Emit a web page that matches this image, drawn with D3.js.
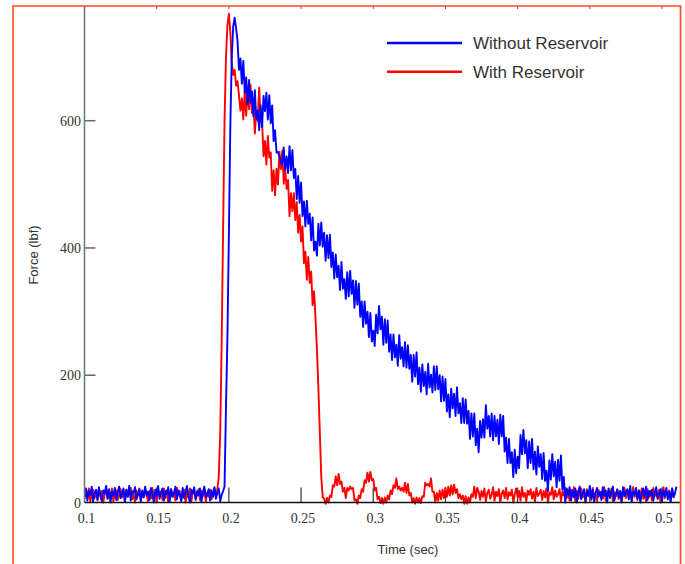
<!DOCTYPE html>
<html><head><meta charset="utf-8">
<script src="https://cdn.jsdelivr.net/npm/d3@7"></script>
<style>body{margin:0;background:#fff;} svg{display:block}</style>
</head><body><svg id="c" width="685" height="564"></svg>
<script>
// ---------------- DATA ----------------
const seriesNames = ["Without Reservoir", "With Reservoir"];
const xTickValues = [0.1, 0.15, 0.2, 0.25, 0.3, 0.35, 0.4, 0.45, 0.5];
const xTickLabels = ["0.1", "0.15", "0.2", "0.25", "0.3", "0.35", "0.4", "0.45", "0.5"];
const yTickValues = [0, 200, 400, 600];
const yTickLabels = ["0", "200", "400", "600"];
const xTitle = "Time (sec)";
const yTitle = "Force (lbf)";
const sampleStep = 0.001; // seconds between samples

// Without Reservoir (blue)
const blueBase1Start = 0.100;
const blueBase1 = [8,22,3,18,12,25,1,15,20,5,24,10,2,19,14,26,6,21,0,17,11,23,4,16,25,7,13,22,1,20,9,26,3,18,15,24,5,12,21,2,19,8,25,11,17,4,23,14,0,20,10,26,6,16,22,3,18,13,24,1,21,9,15,25,5,19,12,2,23,7,17,26,10,0,20,14,24,4,18,11,22,1,16,25,8,13,21,3,19,9,24,6,15,22,2,12,18];
const blueRiseStart = 0.197;
const blueRise = [25,150,260,420,590,700,748,762,745,725,680];
const blueDecayStart = 0.208;
const blueDecay = [698,658,694,644,668,626,664,628,646,607,648,603,616,585,624,590,639,615,644,602,
640,596,624,568,585,550,551,544,535,531,558,523,544,518,560,522,554,510,524,477,
513,471,503,450,473,434,474,438,454,412,448,396,410,388,438,404,440,402,424,380,
420,384,421,370,393,352,390,354,372,334,378,336,351,320,362,324,364,328,349,306,
348,311,344,292,316,276,316,281,300,260,298,253,270,246,295,266,309,272,292,248,
288,251,286,237,264,224,264,228,248,215,263,226,244,214,252,212,247,210,232,190,
232,198,236,186,212,174,217,183,205,170,218,181,201,173,214,177,214,178,200,159,
198,160,194,143,170,134,179,148,171,136,181,140,156,125,164,125,162,124,144,100,
140,104,140,90,116,79,128,102,131,102,153,116,136,104,140,98,136,104,130,92,
138,104,136,80,102,62,100,62,79,40,83,46,72,54,106,76,114,77,98,54,
96,62,100,52,80,44,88,56,76,37,78,34,50,18,66,36,76,41,64,24,
67,34,74,20,40,0,22];
const blueBase2Start = 0.435;
const blueBase2 = [12,24,3,19,8,22,0,16,25,5,14,21,2,18,10,26,6,20,1,15,23,9,17,4,24,11,19,0,22,7,16,25,3,13,20,8,18,2,24,10,15,21,5,26,1,17,12,23,6,19,0,14,22,9,25,4,18,11,20,3,16,24,7,13,21,2,19,10,23,5,17,1,22,8,15,25];

// With Reservoir (red)
const redBase1Start = 0.100;
const redBase1 = [5,19,10,22,1,14,20,7,16,3,21,11,18,0,13,23,6,17,9,22,2,15,19,4,12,21,8,18,1,20,10,16,23,5,14,0,19,11,22,3,17,8,21,13,2,18,6,23,10,15,0,20,12,17,4,22,7,19,1,14,21,9,16,3,23,11,18,5,13,20,0,17,8,22,2,15,19,6,12,21,4,18,10,23,1,16,9,20,5,14,22];
const redRiseStart = 0.191;
const redRise = [10,20,40,110,250,430,600,700,750,768,740,690,672,680,655,662,640];
const redDecayStart = 0.208;
const redDecay = [616,635,602,646,608,646,618,656,612,630,580,614,600,652,600,598,544,568,531,576,
542,550,490,522,483,524,500,551,524,553,501,526,493,507,450,486,458,486,444,472,
424,452,410,434,376,394,350,386,345,363,310,332,290,240,180,110,40,8];
const redTailStart = 0.266;
const redTail = [6,-2,7,0,11,9,27,25,41,27,45,29,33,17,23,7,23,19,25,21,
23,3,5,-2,11,7,21,17,35,31,47,33,48,35,37,19,23,5,9,-1,
7,-2,8,0,11,5,19,13,27,23,38,21,25,19,23,17,31,15,29,11,
15,0,7,-2,8,0,7,-1,10,9,31,27,29,25,38,17,17,0,15,3,
19,5,20,7,23,9,25,11,27,13,28,15,21,7,13,5,11,-2,10,-2,
8,0,13,9,25,7,23,17,
4,18,9,22,2,15,20,6,12,24,3,17,10,21,1,14,19,7,23,5,16,11,20,0,13,22,8,18,3,24,9,15,2,19,12,21,6,17,1,23,10,14,20,4,18,8,22,0,16,12,24,5,19,9,13,21,2,17,11,23,7,15,3,20,10,24,1,18,6,14,22,8,16,0,21,12,19,4,23,9,15,2,20,11,17,6,24,3,13,19,8,22,1,16,10,21,5,18,0,14,23,7,20,12,17,2,24,9,15,4,19,11,22,6,13,1,21,8,18,3,23,10,16,5,20,0,14,24,7,17,12,19,2,22,9,15];

// ---------------- BUILD ----------------
function seg(start, vals) { return vals.map((v, i) => ({ t: start + i * sampleStep, v })); }
function monotone(pts) {
  const out = []; let last = -Infinity;
  for (const p of pts) { if (p.t > last + 1e-9 && p.t <= 0.5125) { out.push(p); last = p.t; } }
  return out;
}
const blueData = monotone([].concat(seg(blueBase1Start, blueBase1), seg(blueRiseStart, blueRise),
  seg(blueDecayStart, blueDecay), seg(blueBase2Start, blueBase2)));
const redData = monotone([].concat(seg(redBase1Start, redBase1), seg(redRiseStart, redRise),
  seg(redDecayStart, redDecay), seg(redTailStart, redTail)));

const svg = d3.select("#c");
const frameColor = "#ff4b1f";
const x = d3.scaleLinear().domain([0.1, 0.5]).range([84.5, 662]);
const y = d3.scaleLinear().domain([0, 600]).range([502.5, 120.7]);
const plotTop = 6, plotLeft = 84.5, plotRight = 680, plotBottom = 502.5;

// clip
svg.append("defs").append("clipPath").attr("id", "clip")
  .append("rect").attr("x", plotLeft).attr("y", plotTop).attr("width", plotRight - plotLeft).attr("height", 506 - plotTop);

// top small ticks
svg.append("g").selectAll("line").data(xTickValues.slice(1)).join("line")
  .attr("x1", d => x(d)).attr("x2", d => x(d)).attr("y1", plotTop).attr("y2", plotTop + 3)
  .attr("stroke", "#555").attr("stroke-width", 1);

// bottom inward ticks
svg.append("g").selectAll("line").data(xTickValues.slice(1)).join("line")
  .attr("x1", d => x(d)).attr("x2", d => x(d)).attr("y1", plotBottom).attr("y2", plotBottom - 15)
  .attr("stroke", "#333").attr("stroke-width", 1.2);

// y inward ticks
svg.append("g").selectAll("line").data(yTickValues.slice(1)).join("line")
  .attr("x1", plotLeft).attr("x2", plotLeft + 11).attr("y1", d => y(d)).attr("y2", d => y(d))
  .attr("stroke", "#666").attr("stroke-width", 1.5);

// lines
const line = d3.line().x(d => x(d.t)).y(d => y(d.v));
const g = svg.append("g").attr("clip-path", "url(#clip)");
g.append("path").datum(redData).attr("d", line).attr("fill", "none").attr("stroke", "#ff0000").attr("stroke-width", 1.9).attr("stroke-linejoin", "round");
g.append("path").datum(blueData).attr("d", line).attr("fill", "none").attr("stroke", "#0000ff").attr("stroke-width", 1.9).attr("stroke-linejoin", "round");

// axes lines
svg.append("line").attr("x1", plotLeft).attr("x2", plotLeft).attr("y1", plotTop).attr("y2", plotBottom)
  .attr("stroke", "#777").attr("stroke-width", 1.6);
svg.append("line").attr("x1", plotLeft).attr("x2", plotRight).attr("y1", plotBottom).attr("y2", plotBottom)
  .attr("stroke", "#111").attr("stroke-width", 1.5);

// frame
svg.append("path").attr("d", `M13,564 L13,6 L680.5,6 L680.5,564`).attr("fill", "none")
  .attr("stroke", frameColor).attr("stroke-width", 1.6);

// tick labels
svg.append("g").selectAll("text").data(xTickValues).join("text")
  .attr("x", d => x(d) + 2).attr("y", 523).attr("text-anchor", "middle")
  .attr("font-family", "Liberation Serif, Times New Roman, serif").attr("font-size", 14).attr("fill", "#333")
  .text((d, i) => xTickLabels[i]);
svg.append("g").selectAll("text").data(yTickValues).join("text")
  .attr("x", 81).attr("y", d => y(d) + 5).attr("text-anchor", "end")
  .attr("font-family", "Liberation Serif, Times New Roman, serif").attr("font-size", 14).attr("fill", "#333")
  .text((d, i) => yTickLabels[i]);

// titles
svg.append("text").attr("x", 408).attr("y", 554).attr("text-anchor", "middle")
  .attr("font-family", "Liberation Sans, Arial, sans-serif").attr("font-size", 13).attr("fill", "#333").text(xTitle);
svg.append("text").attr("transform", "translate(38,255) rotate(-90)").attr("text-anchor", "middle")
  .attr("font-family", "Liberation Sans, Arial, sans-serif").attr("font-size", 13).attr("fill", "#333").text(yTitle);

// legend
const legendColors = ["#0000ff", "#ff0000"];
const lg = svg.append("g").selectAll("g").data(seriesNames).join("g")
  .attr("transform", (d, i) => `translate(0,${43 + i * 28.7})`);
lg.append("line").attr("x1", 387).attr("x2", 462).attr("y1", 0).attr("y2", 0)
  .attr("stroke", (d, i) => legendColors[i]).attr("stroke-width", 2.6);
lg.append("text").attr("x", 473).attr("y", 6).attr("font-family", "Liberation Sans, Arial, sans-serif")
  .attr("font-size", 17).attr("fill", "#333").text(d => d);
</script></body></html>
